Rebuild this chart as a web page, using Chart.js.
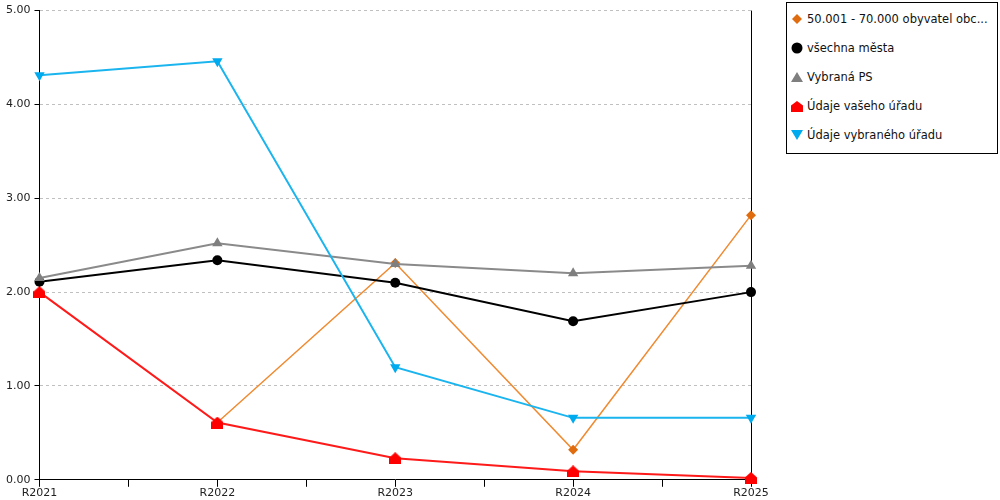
<!DOCTYPE html>
<html>
<head>
<meta charset="utf-8">
<script src="https://cdn.jsdelivr.net/npm/chart.js@4/dist/chart.umd.min.js"></script>
<style>
  body { margin: 0; background: #fff; font-family: "DejaVu Sans", Verdana, sans-serif; }
  #wrap { position: relative; width: 1000px; height: 500px; }
  #legend {
    position: absolute; left: 786px; top: 2px; width: 212px; height: 152px;
    border: 1px solid #000; box-sizing: border-box; background: #fff;
  }
  .item { position: absolute; left: 4px; height: 14px; display: flex; align-items: center; font-size: 11.5px; color: #111; white-space: nowrap; }
  .item svg { margin-right: 4px; }
</style>
</head>
<body>
<div id="wrap">
  <canvas id="chart" width="1000" height="500"></canvas>
  <div id="legend"></div>
</div>
<script>
const categories = ["R2021", "R2022", "R2023", "R2024", "R2025"];
const obyvatel = [null, 0.61, 2.31, 0.32, 2.82];
const mesta = [2.11, 2.34, 2.10, 1.69, 2.00];
const vybranaPS = [2.15, 2.52, 2.30, 2.20, 2.28];
const vasUrad = [2.00, 0.61, 0.23, 0.09, 0.02];
const vybranyUrad = [4.31, 4.46, 1.20, 0.66, 0.66];
const yTicks = [0, 1, 2, 3, 4, 5];

// house shaped marker for "Údaje vašeho úřadu"
function houseMarker(size, color) {
  const c = document.createElement("canvas");
  c.width = size; c.height = size;
  const g = c.getContext("2d");
  g.fillStyle = color;
  g.beginPath();
  g.moveTo(size / 2, 0);
  g.lineTo(size, size * 0.45);
  g.lineTo(size, size);
  g.lineTo(0, size);
  g.lineTo(0, size * 0.45);
  g.closePath();
  g.fill();
  return c;
}

const pts = arr => arr.map((v, i) => ({ x: i, y: v }));

const series = [
  { label: "50.001 - 70.000 obyvatel obc...", data: obyvatel, line: "#f08a30", fill: "#e06c10", style: "rectRot", radius: 5, width: 1.5, icon: "diamond" },
  { label: "všechna města", data: mesta, line: "#000000", fill: "#000000", style: "circle", radius: 5, width: 2, icon: "circle" },
  { label: "Vybraná PS", data: vybranaPS, line: "#8a8a8a", fill: "#7f7f7f", style: "triangle", radius: 6, width: 2, icon: "triangle" },
  { label: "Údaje vašeho úřadu", data: vasUrad, line: "#ff1a1a", fill: "#ff0000", style: houseMarker(12, "#ff0000"), radius: 6, width: 2, icon: "house" },
  { label: "Údaje vybraného úřadu", data: vybranyUrad, line: "#1ab4ee", fill: "#00aaee", style: "triangle", rotation: 180, radius: 6, width: 2, icon: "down" }
];

const ctx = document.getElementById("chart").getContext("2d");
new Chart(ctx, {
  type: "line",
  data: {
    datasets: series.map(s => ({
      label: s.label,
      data: pts(s.data),
      borderColor: s.line,
      backgroundColor: s.fill,
      pointBackgroundColor: s.fill,
      pointBorderColor: s.fill,
      pointBorderWidth: 0,
      pointStyle: s.style,
      pointRotation: s.rotation || 0,
      pointRadius: s.radius,
      borderWidth: s.width,
      tension: 0,
      spanGaps: false,
      clip: false
    })).reverse()
  },
  options: {
    responsive: false,
    animation: false,
    layout: { padding: { top: 4, right: 249, left: 2, bottom: 0 } },
    plugins: { legend: { display: false }, tooltip: { enabled: false } },
    scales: {
      x: {
        type: "linear",
        min: 0,
        max: categories.length - 1,
        border: { color: "#000", width: 1 },
        grid: {
          color: c => c.tick && c.tick.value === categories.length - 1 ? "#000" : "rgba(0,0,0,0)",
          tickColor: "#000",
          tickLength: 7,
          lineWidth: 1
        },
        ticks: {
          stepSize: 0.5,
          autoSkip: false,
          maxRotation: 0,
          padding: 0,
          color: "#222",
          font: { family: "DejaVu Sans", size: 11 },
          callback: v => Number.isInteger(v) ? categories[v] : ""
        }
      },
      y: {
        min: yTicks[0],
        max: yTicks[yTicks.length - 1],
        border: { color: "#000", width: 1, dash: [3, 3] },
        grid: {
          color: c => c.tick && c.tick.value === 0 ? "rgba(0,0,0,0)" : "#c0c0c0",
          tickColor: "#000",
          tickLength: 5,
          tickBorderDash: []
        },
        ticks: {
          stepSize: 1,
          padding: 4,
          color: "#222",
          font: { family: "DejaVu Sans", size: 11 },
          callback: v => v.toFixed(2)
        }
      }
    }
  }
});

// legend
const icons = {
  diamond: c => `<polygon points="6,1 11,6 6,11 1,6" fill="${c}"/>`,
  circle: c => `<circle cx="6" cy="6" r="5.5" fill="${c}"/>`,
  triangle: c => `<polygon points="6,1 12,11 0,11" fill="${c}"/>`,
  house: c => `<polygon points="6,1 12,5.5 12,12 0,12 0,5.5" fill="${c}"/>`,
  down: c => `<polygon points="0,1 12,1 6,11" fill="${c}"/>`
};
const legend = document.getElementById("legend");
series.forEach((s, i) => {
  const d = document.createElement("div");
  d.className = "item";
  d.style.top = (9 + i * 29) + "px";
  d.innerHTML = `<svg width="12" height="12" viewBox="0 0 12 12">${icons[s.icon](s.fill)}</svg><span>${s.label}</span>`;
  legend.appendChild(d);
});
</script>
</body>
</html>
